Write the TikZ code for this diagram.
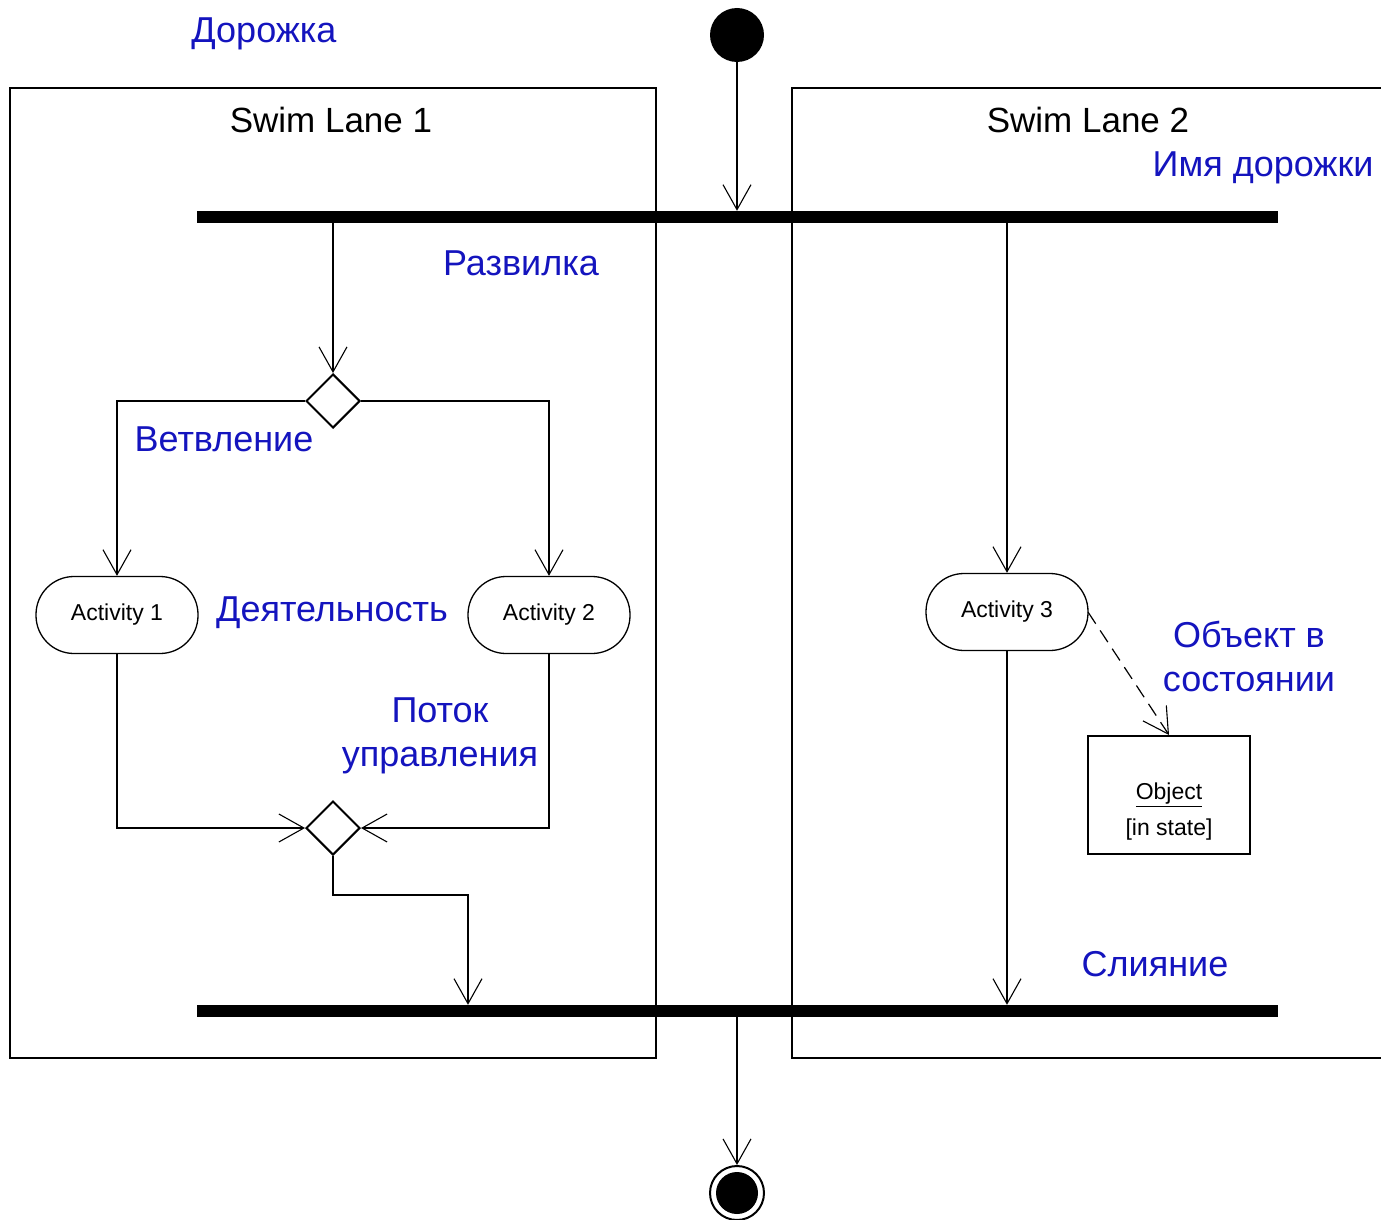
\documentclass[tikz,border=0pt]{standalone}
\usepackage{fontspec}
\setmainfont{Liberation Sans}
\usetikzlibrary{arrows.meta,shapes.geometric}
\definecolor{lblue}{RGB}{20,20,190}
\begin{document}
\begin{tikzpicture}[x=1pt,y=-1pt,
  arr/.style={line width=1.2pt,-{Straight Barb[length=25pt,width=28pt,line width=1.1pt]}},
  lane/.style={draw,line width=2pt},
  bar/.style={fill=black,inner sep=0pt,minimum width=1081pt,minimum height=12pt},
  actbox/.style={draw,line width=1.3pt,rounded corners=38pt,minimum width=162pt,minimum height=77pt,inner sep=0pt,font=\fontsize{23}{26}\selectfont},
  dec/.style={draw,line width=2pt,diamond,minimum width=54pt,minimum height=54pt,inner sep=0pt,fill=white},
  lbl/.style={text=lblue,font=\fontsize{36}{44}\selectfont,align=center,inner sep=0pt},
  lanetitle/.style={font=\fontsize{35}{40}\selectfont,inner sep=0pt}]
\useasboundingbox (0,0) rectangle (1381,1220);
% lanes
\draw[lane] (10,88) rectangle (656,1058);
\draw[lane] (1381,88) -- (792,88) -- (792,1058) -- (1381,1058);
\node[lanetitle] (t1) at (331,120) {Swim Lane 1};
\node[lanetitle] (t2) at (1088,120) {Swim Lane 2};
% nodes
\node[circle,fill=black,minimum size=54pt,inner sep=0pt] (start) at (737,35) {};
\node[bar] (fork) at (737.5,217) {};
\node[bar] (join) at (737.5,1011) {};
\node[dec] (decn) at (333,401) {};
\node[dec] (merge) at (333,828) {};
\node[actbox] (act1) at (117,615) {Activity 1};
\node[actbox] (act2) at (549,615) {Activity 2};
\node[actbox] (act3) at (1007,612) {Activity 3};
\node[draw,line width=2pt,minimum width=162pt,minimum height=118pt,inner sep=0pt] (obj) at (1169,795) {};
\node[align=center,inner sep=0pt,font=\fontsize{23}{36}\selectfont] (objtxt) at (1169,812) {\underline{Object}\\{}[in state]};
\node[circle,draw,line width=2pt,minimum size=54pt,inner sep=0pt] (endo) at (737,1193) {};
\node[circle,fill=black,minimum size=42pt,inner sep=0pt] (endi) at (endo) {};
\coordinate (mj) at (468,895);
% connectors
\draw[arr] (start) -- (start |- fork.north);
\draw[arr] (decn |- fork.south) -- (decn.north);
\draw[arr] (decn.west) -| (act1.north);
\draw[arr] (decn.east) -| (act2.north);
\draw[arr] (act1.south) |- (merge.west);
\draw[arr] (act2.south) |- (merge.east);
\draw[arr] (merge.south) |- (mj) -- (mj |- join.north);
\draw[arr] (act3 |- fork.south) -- (act3.north);
\draw[arr] (act3.south) -- (act3 |- join.north);
\draw[arr,dash pattern=on 14pt off 8pt] (1088,612) -- (obj.north);
\draw[arr] (start |- join.south) -- (endo.north);
% labels
\node[lbl] (l1) at (264,34) {Дорожка};
\node[lbl] (l2) at (1263,168) {Имя дорожки};
\node[lbl] (l3) at (521,263) {Развилка};
\node[lbl] (l4) at (224,439) {Ветвление};
\node[lbl] (l5) at (332,613) {Деятельность};
\node[lbl] (l6) at (440,736) {Поток\\управления};
\node[lbl] (l7) at (1249,656) {Объект в\\состоянии};
\node[lbl] (l8) at (1155,964) {Слияние};
\end{tikzpicture}
\end{document}
